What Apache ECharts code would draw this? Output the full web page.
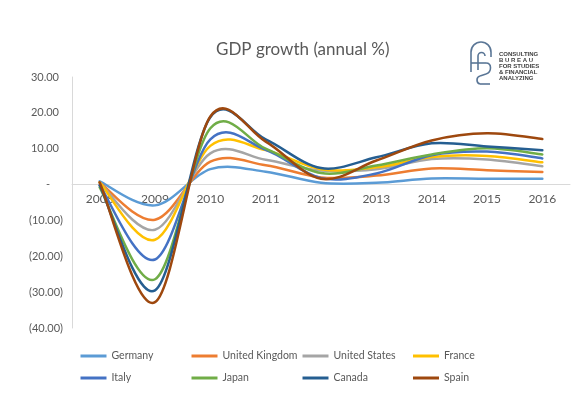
<!DOCTYPE html>
<html>
<head>
<meta charset="utf-8">
<script src="https://cdn.jsdelivr.net/npm/echarts@6/dist/echarts.min.js"></script>
<style>
html,body{margin:0;padding:0;background:#fff;}
#chart{width:582px;height:399px;}
</style>
</head>
<body>
<div id="chart"></div>
<script>
const years = ['2008','2009','2010','2011','2012','2013','2014','2015','2016'];
const germany = [0.9, -5.8, 4.3, 3.6, 0.5, 0.5, 1.7, 1.6, 1.6];
const unitedKingdom = [0.6, -9.8, 6.4, 5.4, 2.0, 2.5, 4.5, 4.0, 3.5];
const unitedStates = [0.5, -12.6, 8.7, 6.9, 3.9, 4.3, 7.1, 7.0, 5.1];
const france = [0.6, -15.4, 10.8, 9.6, 4.3, 4.8, 7.7, 8.0, 6.2];
const italy = [-0.2, -20.9, 12.6, 9.7, 1.8, 3.1, 8.2, 9.2, 7.3];
const japan = [-0.8, -26.4, 15.7, 10.0, 3.2, 5.3, 8.4, 10.1, 8.4];
const canada = [-0.2, -29.5, 18.8, 12.6, 4.6, 7.6, 11.5, 10.6, 9.6];
const spain = [0.6, -32.8, 19.0, 12.0, 1.6, 6.7, 12.3, 14.3, 12.7];
const seriesNames = ['Germany','United Kingdom','United States','France','Italy','Japan','Canada','Spain'];
const seriesData = [germany, unitedKingdom, unitedStates, france, italy, japan, canada, spain];
const colors = ['#5B9BD5','#ED7D31','#A5A5A5','#FFC000','#4472C4','#70AD47','#255E91','#9E480E'];

const font = 'Lato, "Open Sans", sans-serif';
const chart = echarts.init(document.getElementById('chart'), null, {renderer:'canvas'});

// Excel-style smoothed Bezier path through screen points
function smoothPath(pts) {
  const n = pts.length;
  const dist = (a, b) => Math.hypot(a[0] - b[0], a[1] - b[1]);
  let d = 'M' + pts[0][0].toFixed(2) + ' ' + pts[0][1].toFixed(2);
  for (let i = 0; i < n - 1; i++) {
    const p0 = pts[i > 0 ? i - 1 : i], p1 = pts[i], p2 = pts[i + 1], p3 = pts[i + 2 < n ? i + 2 : i + 1];
    const d02 = dist(p0, p2), d12 = dist(p1, p2), d13 = dist(p1, p3);
    let f = 1 / 6, g = 1 / 6;
    if (d02 > 0 && d02 / 6 >= d12 / 2) f = d12 / d02 / 2;
    if (d13 > 0 && d13 / 6 >= d12 / 2) g = d12 / d13 / 2;
    const c1 = [p1[0] + f * (p2[0] - p0[0]), p1[1] + f * (p2[1] - p0[1])];
    const c2 = [p2[0] - g * (p3[0] - p1[0]), p2[1] - g * (p3[1] - p1[1])];
    d += ' C' + c1[0].toFixed(2) + ' ' + c1[1].toFixed(2) + ' ' + c2[0].toFixed(2) + ' ' + c2[1].toFixed(2) + ' ' + p2[0].toFixed(2) + ' ' + p2[1].toFixed(2);
  }
  return d;
}

function makeRenderer(values, color) {
  return function (params, api) {
    if (params.dataIndex !== 0) return null;
    const pts = values.map((v, j) => api.coord([j, v]));
    return {
      type: 'path',
      shape: {pathData: smoothPath(pts)},
      style: {stroke: color, lineWidth: 2.5, fill: null, lineJoin: 'round', lineCap: 'round'}
    };
  };
}

const legendCols = [75.5, 186.5, 297.5, 408];
const legends = legendCols.map((x, i) => ({
  orient: 'vertical',
  left: x,
  top: 344,
  data: [seriesNames[i], seriesNames[i + 4]],
  icon: 'rect',
  itemWidth: 26,
  itemHeight: 3,
  itemGap: 8,
  textStyle: {color: '#595959', fontSize: 10.5, fontFamily: font, lineHeight: 14}
}));

const logoStroke = {stroke: '#5A7696', lineWidth: 1.6, fill: null};
const logo = [
  {type: 'line', shape: {x1: 471, y1: 72, x2: 471, y2: 52}, style: logoStroke},
  {type: 'arc', shape: {cx: 481, cy: 52, r: 10, startAngle: Math.PI, endAngle: 2 * Math.PI, clockwise: true}, style: logoStroke},
  {type: 'line', shape: {x1: 491, y1: 52, x2: 491, y2: 57}, style: logoStroke},
  {type: 'line', shape: {x1: 478, y1: 70, x2: 478, y2: 56}, style: logoStroke},
  {type: 'arc', shape: {cx: 481.5, cy: 56, r: 3.5, startAngle: Math.PI, endAngle: 2 * Math.PI, clockwise: true}, style: logoStroke},
  {type: 'line', shape: {x1: 471, y1: 63, x2: 486, y2: 63}, style: logoStroke},
  {type: 'bezierCurve', shape: {x1: 486, y1: 63, cpx1: 492, cpy1: 63, cpx2: 492, cpy2: 72, x2: 486, y2: 74}, style: logoStroke},
  {type: 'line', shape: {x1: 486, y1: 74, x2: 480, y2: 76}, style: logoStroke},
  {type: 'bezierCurve', shape: {x1: 480, y1: 76, cpx1: 476, cpy1: 77, cpx2: 476, cpy2: 83, x2: 480, y2: 84}, style: logoStroke},
  {type: 'line', shape: {x1: 480, y1: 84, x2: 490, y2: 84}, style: logoStroke},
  {
    type: 'text', left: 499, top: 51,
    style: {text: 'CONSULTING\nB U R E A U\nFOR STUDIES\n& FINANCIAL\nANALYZING', fill: '#404040', font: 'bold 6px "Liberation Sans", sans-serif', lineHeight: 6}
  }
];

const gridTop = 77, gridBottom = 71, yMin = -40, yMax = 30;
const plotH = 399 - gridTop - gridBottom;
const zeroOffset = -(plotH * (0 - yMin) / (yMax - yMin));

chart.setOption({
  animation: false,
  color: colors,
  title: {
    text: 'GDP growth (annual %)',
    left: 211,
    top: 36,
    textStyle: {color: '#595959', fontSize: 17, fontWeight: 'normal', fontFamily: font}
  },
  legend: legends,
  grid: {left: 72, right: 12, top: gridTop, bottom: gridBottom},
  xAxis: {
    type: 'category',
    data: years,
    boundaryGap: true,
    position: 'bottom',
    offset: zeroOffset,
    axisLine: {onZero: false, lineStyle: {color: '#D9D9D9', width: 1}},
    axisTick: {show: false},
    axisLabel: {color: '#595959', fontSize: 12, fontFamily: font, margin: 9}
  },
  yAxis: {
    type: 'value',
    min: yMin, max: yMax, interval: 10,
    splitLine: {show: false},
    axisLine: {show: true, lineStyle: {color: '#D9D9D9', width: 1}},
    axisTick: {show: false},
    axisLabel: {
      color: '#595959', fontSize: 11, fontFamily: font, margin: 9,
      formatter: function (v) {
        if (v > 0) return '{p|' + v.toFixed(2) + '}';
        if (v === 0) return '{z|-}';
        return '(' + Math.abs(v).toFixed(2) + ')';
      },
      rich: {
        p: {color: '#595959', fontSize: 11, fontFamily: font, padding: [0, 4, 0, 0]},
        z: {color: '#595959', fontSize: 11, fontFamily: font, padding: [0, 13, 0, 0]}
      }
    }
  },
  series: seriesNames.map((n, i) => ({
    name: n,
    type: 'custom',
    coordinateSystem: 'cartesian2d',
    data: seriesData[i].map((v, j) => [j, v]),
    encode: {x: 0, y: 1},
    renderItem: makeRenderer(seriesData[i], colors[i]),
    itemStyle: {color: colors[i]}
  })),
  graphic: logo
});
</script>
</body>
</html>
